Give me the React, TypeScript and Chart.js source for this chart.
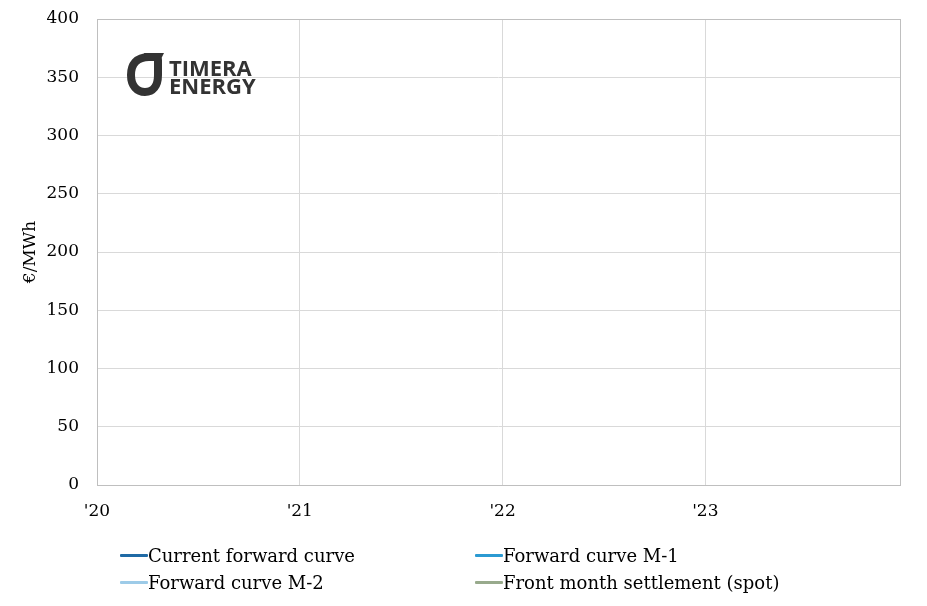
import React, { useEffect, useRef } from "react";
import { Chart, registerables } from "chart.js";

Chart.register(...registerables);

// Data (the reference shows no plotted values)
const seriesNames = [
  "Current forward curve",
  "Forward curve M-1",
  "Forward curve M-2",
  "Front month settlement (spot)",
];
const seriesColors = ["#1f6aa5", "#2b9ad2", "#9dcbe8", "#98aa8c"];
const currentForward: { x: number; y: number }[] = [];
const forwardM1: { x: number; y: number }[] = [];
const forwardM2: { x: number; y: number }[] = [];
const frontMonthSpot: { x: number; y: number }[] = [];
const xMin = 2020;
const xMax = 2023.96;
const xTicks = [2020, 2021, 2022, 2023];
const yTicks = [0, 50, 100, 150, 200, 250, 300, 350, 400];

const FONT = "'DejaVu Serif', serif";

const borderPlugin = {
  id: "areaBorder",
  afterDraw(chart: any) {
    const { ctx, chartArea } = chart;
    ctx.save();
    ctx.strokeStyle = "#bfbfbf";
    ctx.lineWidth = 1;
    ctx.strokeRect(
      Math.round(chartArea.left) + 0.5,
      Math.round(chartArea.top) + 0.5,
      Math.round(chartArea.right - chartArea.left),
      Math.round(chartArea.bottom - chartArea.top)
    );
    ctx.restore();
  },
};

export default function App() {
  const ref = useRef<HTMLCanvasElement | null>(null);

  useEffect(() => {
    document.body.style.margin = "0";
    if (!ref.current) return;
    const data = [currentForward, forwardM1, forwardM2, frontMonthSpot];
    const chart = new Chart(ref.current, {
      type: "line",
      data: {
        datasets: data.map((d, i) => ({
          label: seriesNames[i],
          data: d,
          borderColor: seriesColors[i],
          backgroundColor: seriesColors[i],
          borderWidth: 2.5,
          pointRadius: 0,
        })),
      },
      options: {
        animation: false,
        responsive: false,
        maintainAspectRatio: false,
        layout: { padding: { left: 0, right: 27, top: 0, bottom: 0 } },
        plugins: {
          legend: { display: false },
          tooltip: { enabled: false },
        },
        scales: {
          x: {
            type: "linear",
            min: xMin,
            max: xMax,
            afterFit: (s: any) => {
              s.height = 121;
            },
            afterBuildTicks: (s: any) => {
              s.ticks = xTicks.map((v) => ({ value: v }));
            },
            ticks: {
              stepSize: 1,
              padding: 16,
              color: "#000",
              font: { family: FONT, size: 17 },
              maxRotation: 0,
              callback: (v: any) => "'" + String(Math.round(Number(v)) % 100),
            },
            grid: { color: "#d9d9d9", drawTicks: false },
            border: { display: false },
          },
          y: {
            min: 0,
            max: 400,
            afterFit: (s: any) => {
              s.width = 97;
              s.paddingTop = 19;
            },
            afterBuildTicks: (s: any) => {
              s.ticks = yTicks.map((v) => ({ value: v }));
            },
            ticks: {
              padding: 18,
              color: "#000",
              font: { family: FONT, size: 17 },
            },
            grid: { color: "#d9d9d9", drawTicks: false },
            border: { display: false },
            title: {
              display: true,
              text: "€/MWh",
              color: "#000",
              font: { family: FONT, size: 17 },
              padding: { top: 20, bottom: 0 },
            },
          },
        },
      },
      plugins: [borderPlugin],
    });
    return () => chart.destroy();
  }, []);

  const legendPos = [
    { left: 120, top: 543 },
    { left: 475, top: 543 },
    { left: 120, top: 570 },
    { left: 475, top: 570 },
  ];

  return (
    <div style={{ position: "relative", width: 927, height: 606, background: "#fff" }}>
      <canvas ref={ref} width={927} height={606} style={{ display: "block" }} />
      <div style={{ position: "absolute", left: 126, top: 51, display: "flex", alignItems: "center" }}>
        <svg width="40" height="46" viewBox="0 0 40 46">
          <path
            d="M23 6 C10 6 5 14 5 24 C5 35 11 41 19 41 C27 41 32 35 32 24 L32 9"
            fill="none"
            stroke="#333"
            strokeWidth="8"
            strokeLinecap="round"
          />
          <path d="M18 2 L38 2 L34 10 L20 10 Z" fill="#333" />
        </svg>
        <div
          style={{
            marginLeft: 3,
            marginTop: 4,
            fontFamily: "'Open Sans', sans-serif",
            fontWeight: 700,
            fontSize: 22,
            lineHeight: "18px",
            color: "#333",
            letterSpacing: 0,
          }}
        >
          <div>TIMERA</div>
          <div>ENERGY</div>
        </div>
      </div>
      {seriesNames.map((n, i) => (
        <div
          key={n}
          style={{
            position: "absolute",
            left: legendPos[i].left,
            top: legendPos[i].top,
            display: "flex",
            alignItems: "center",
            fontFamily: FONT,
            fontSize: 18,
            color: "#000",
            whiteSpace: "nowrap",
            height: 24,
          }}
        >
          <span
            style={{
              display: "inline-block",
              width: 28,
              height: 3,
              background: seriesColors[i],
              borderRadius: 1,
            }}
          />
          <span>{n}</span>
        </div>
      ))}
    </div>
  );
}
